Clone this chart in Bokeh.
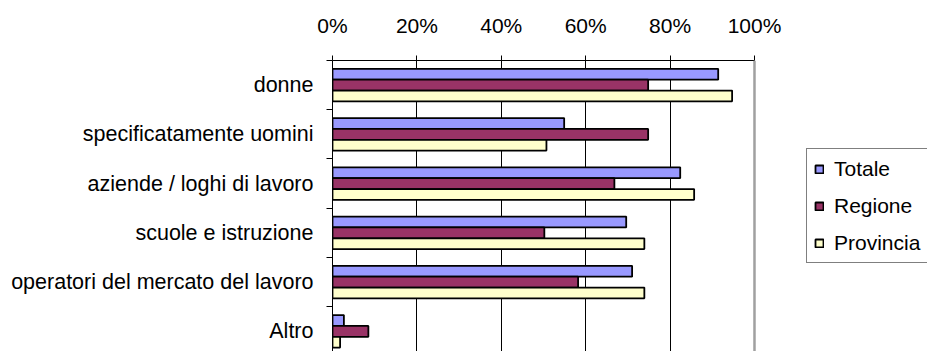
from bokeh.plotting import figure
from bokeh.models import (ColumnDataSource, Range1d, FixedTicker, PrintfTickFormatter,
                          Legend, LegendItem, Span)
from bokeh.transform import dodge
from bokeh.embed import file_html
from bokeh.resources import INLINE

categories = ["donne", "specificatamente uomini", "aziende / loghi di lavoro",
              "scuole e istruzione", "operatori del mercato del lavoro", "Altro"]
totale = [91.4, 54.9, 82.4, 69.6, 71.0, 2.7]
regione = [74.8, 74.8, 66.8, 50.2, 58.2, 8.5]
provincia = [94.7, 50.7, 85.7, 73.9, 73.9, 1.8]
series_names = ["Totale", "Regione", "Provincia"]
series_colors = ["#9999FF", "#993366", "#FFFFCC"]
x_ticks = [0, 20, 40, 60, 80, 100]

pos = list(range(len(categories)))
src = ColumnDataSource(dict(pos=pos, Totale=totale, Regione=regione, Provincia=provincia))

FONT = "Liberation Sans"

# frame spans to the right edge so the legend can sit inside it; 100% maps to x=754
p = figure(width=927, height=351, output_backend="svg", toolbar_location=None,
           x_range=Range1d(0, 141.0), y_range=Range1d(5.409, -0.5),
           x_axis_location="above", min_border_left=332, min_border_right=0,
           min_border_top=60, min_border_bottom=0)
p.outline_line_color = None
p.background_fill_color = "white"
p.border_fill_color = "white"

# grid
p.ygrid.visible = False
p.xgrid.ticker = FixedTicker(ticks=x_ticks[1:-1])
p.xgrid.grid_line_color = "black"
p.xgrid.grid_line_width = 1
p.add_layout(Span(location=x_ticks[-1], dimension="height", line_color="#A0A0A0", line_width=2.5))

# bars
bh = 0.22
offsets = [-bh, 0.0, bh]
renderers = []
for name, col, off in zip(series_names, series_colors, offsets):
    r = p.hbar(y=dodge("pos", off, range=p.y_range), right=name, left=0, height=bh,
               source=src, fill_color=col, line_color="black", line_width=1.8)
    renderers.append(r)

# top axis
xa = p.xaxis[0]
xa.bounds = (x_ticks[0], x_ticks[-1])
xa.ticker = FixedTicker(ticks=x_ticks)
xa.formatter = PrintfTickFormatter(format="%d%%")
xa.major_tick_out = 5
xa.major_tick_in = 0
xa.minor_tick_out = 0
xa.minor_tick_in = 0
xa.axis_line_color = "black"
xa.major_tick_line_color = "black"
xa.major_label_text_font = FONT
xa.major_label_text_font_size = "21px"
xa.major_label_text_color = "black"
xa.major_label_standoff = 19

# left axis
ya = p.yaxis[0]
ya.ticker = FixedTicker(ticks=pos, minor_ticks=[i - 0.5 for i in range(len(categories) + 1)])
ya.major_label_overrides = {i: c for i, c in enumerate(categories)}
ya.major_tick_out = 0
ya.major_tick_in = 0
ya.minor_tick_out = 6
ya.minor_tick_in = 0
ya.minor_tick_line_color = "black"
ya.axis_line_color = "black"
ya.major_label_text_font = FONT
ya.major_label_text_font_size = "21.5px"
ya.major_label_text_color = "black"
ya.major_label_standoff = 13

legend = Legend(items=[LegendItem(label=n, renderers=[r]) for n, r in zip(series_names, renderers)],
                location=(474, 88))
legend.label_text_font = FONT
legend.label_text_font_size = "21px"
legend.label_text_color = "black"
legend.glyph_width = 10
legend.glyph_height = 10
legend.label_height = 25
legend.label_standoff = 10
legend.spacing = 12
legend.padding = 7
legend.margin = 0
legend.border_line_color = "black"
legend.border_line_width = 1
legend.background_fill_color = "white"
legend.background_fill_alpha = 1.0
p.add_layout(legend)

open("out.html", "w").write(file_html(p, INLINE))
